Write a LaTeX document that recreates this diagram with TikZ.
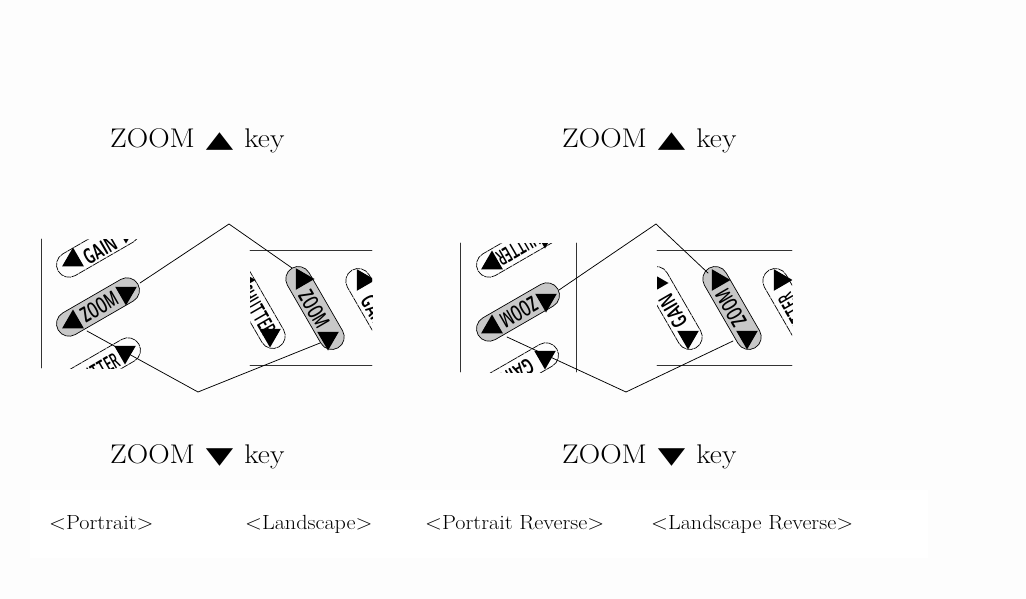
\documentclass[tikz,border=0pt]{standalone}
\usepackage{fontspec}
\usetikzlibrary{shapes.misc,shapes.geometric}
\newfontfamily\trifont{DejaVu Sans}
\definecolor{paperbg}{HTML}{FDFDFD}
\definecolor{keygray}{HTML}{C8C8C8}
\tikzset{
    keywhite/.style={draw=black, line width=0.7pt, dash pattern=on 7pt off 1pt, rounded rectangle, minimum width=92pt, minimum height=25pt, inner sep=0pt},
    keygrey/.style={keywhite, solid, fill=keygray},
    keylabel/.style={font=\fontsize{22}{22}\sffamily\bfseries, inner sep=0pt},
    triup/.style={regular polygon, regular polygon sides=3, fill=black, minimum size=25pt, inner sep=0pt, outer sep=0pt},
    tridown/.style={triup, shape border rotate=180},
    triright/.style={triup, shape border rotate=-90},
    heading/.style={font=\fontsize{27}{27}\selectfont, anchor=base west, inner sep=0pt},
    caption/.style={font=\fontsize{20.5}{21}\selectfont, anchor=base west, inner sep=0pt},
    connector/.style={line width=0.75pt},
    frameline/.style={line width=0.9pt, draw=black!80}
}
\newcommand{\zoomkey}[1]{\scalebox{0.56}[1]{#1}}
\newcommand{\gainkey}[1]{\scalebox{0.62}[1]{#1}}
\newcommand{\shutterkey}[1]{\scalebox{0.48}[1]{#1}}
\newcommand{\headword}[1]{\scalebox{1.1}[1]{#1}}
\newcommand{\headtri}[1]{\scalebox{1.55}[1]{\trifont\fontsize{23}{23}\selectfont #1}}
\newcommand{\capword}[1]{\scalebox{1.08}[1]{#1}}
\begin{document}
\begin{tikzpicture}[line cap=round, line join=round, x=1pt, y=-1pt]

    \fill[paperbg] (0,0) rectangle (1026,599);
    \fill[white] (30,490) rectangle (928,558);

    \node[heading] (upA) at (110,148) {\headword{ZOOM}\hspace{11pt}\headtri{▲}\hspace{11pt}\headword{key}};
    \node[heading] (upB) at (562,148) {\headword{ZOOM}\hspace{11pt}\headtri{▲}\hspace{11pt}\headword{key}};
    \node[heading] (downA) at (110,463) {\headword{ZOOM}\hspace{11pt}\headtri{▼}\hspace{11pt}\headword{key}};
    \node[heading] (downB) at (562,463) {\headword{ZOOM}\hspace{11pt}\headtri{▼}\hspace{11pt}\headword{key}};

    \node[caption] (portrait) at (49,529) {\capword{<Portrait>}};
    \node[caption] (landscape) at (245,529) {\capword{<Landscape>}};
    \node[caption] (portraitrev) at (425,529) {\capword{<Portrait Reverse>}};
    \node[caption] (landscaperev) at (651,529) {\capword{<Landscape Reverse>}};

    % left panel
    \coordinate (frameAa) at (41,239);
    \coordinate (frameAb) at (41,368);
    \coordinate (bandAa) at (250,250);
    \coordinate (bandAb) at (372,250);
    \coordinate (bandAc) at (250,365);
    \coordinate (bandAd) at (372,365);
    \draw[frameline] (frameAa) -- (frameAb);
    \draw[frameline] (bandAa) -- (bandAb);
    \draw[frameline] (bandAc) -- (bandAd);

    \begin{scope}
        \clip (44,239) rectangle (150,368);
        \node[keywhite, rotate=30] (gainAkey) at (98,248) {};
        \node[keylabel, rotate=30] (gainAtext) at (100,250) {\gainkey{GAIN}};
        \node[triup] (gainAup) at (73,260) {};
        \node[tridown] (gainAdown) at (126,231) {};
        \node[keywhite, rotate=30] (shutterAkey) at (99,367) {};
        \node[keylabel, rotate=30] (shutterAtext) at (95,372) {\shutterkey{SHUTTER}};
    \end{scope}
    \node[keygrey, rotate=30] (zoomAkey) at (98,307) {};

    \begin{scope}
        \clip (250,240) rectangle (372,380);
        \node[keywhite, rotate=-60] (shutterBkey) at (256,307) {};
        \node[keylabel, rotate=-60] (shutterBtext) at (257,310) {\shutterkey{SHUTTER}};
        \node[triright] (shutterBup) at (243,280) {};
        \node[tridown] (shutterBdown) at (270,335) {};
        \node[keywhite, rotate=-60] (gainBkey) at (375,310) {};
        \node[keylabel, rotate=-60] (gainBtext) at (375,312) {\gainkey{GAIN}};
        \node[triright] (gainBup) at (363,280) {};
    \end{scope}
    \node[keygrey, rotate=-60] (zoomBkey) at (315,308) {};

    \coordinate (apexAa) at (229,224);
    \coordinate (apexAb) at (198,392);
    \coordinate (zoomAhi) at (140,283);
    \coordinate (zoomAlo) at (87,331);
    \coordinate (zoomBhi) at (292,268);
    \coordinate (zoomBlo) at (320,343);
    \draw[connector] (zoomAhi) -- (apexAa) -- (zoomBhi);
    \draw[connector] (zoomAlo) -- (apexAb) -- (zoomBlo);

    \node[keylabel, rotate=30] (zoomAtext) at (99,307) {\zoomkey{ZOOM}};
    \node[keylabel, rotate=-60] (zoomBtext) at (314,309) {\zoomkey{ZOOM}};
    \node[triup] (zoomAup) at (73,322) {};
    \node[tridown] (zoomAdown) at (126,293) {};
    \node[tridown] (shutterAdown) at (125,352) {};
    \node[triright] (zoomBup) at (302,279) {};
    \node[tridown] (zoomBdown) at (328,338) {};

    % right panel
    \coordinate (frameCa) at (460,243);
    \coordinate (frameCb) at (460,372);
    \coordinate (frameCc) at (576,243);
    \coordinate (frameCd) at (576,372);
    \coordinate (bandDa) at (657,250);
    \coordinate (bandDb) at (792,250);
    \coordinate (bandDc) at (657,365);
    \coordinate (bandDd) at (792,365);
    \draw[frameline] (frameCa) -- (frameCb);
    \draw[frameline] (frameCc) -- (frameCd);
    \draw[frameline] (bandDa) -- (bandDb);
    \draw[frameline] (bandDc) -- (bandDd);

    \begin{scope}
        \clip (463,243) rectangle (570,372);
        \node[keywhite, rotate=30] (shutterCkey) at (518,248) {};
        \node[keylabel, rotate=210] (shutterCtext) at (521,247) {\shutterkey{SHUTTER}};
        \node[triup] (shutterCup) at (492,263) {};
        \node[tridown] (shutterCdown) at (545,236) {};
        \node[keywhite, rotate=30] (gainCkey) at (517,372) {};
        \node[keylabel, rotate=210] (gainCtext) at (517,373) {\gainkey{GAIN}};
    \end{scope}
    \node[keygrey, rotate=30] (zoomCkey) at (518,312) {};

    \begin{scope}
        \clip (657,240) rectangle (792,380);
        \node[keywhite, rotate=-60] (gainDkey) at (673,308) {};
        \node[keylabel, rotate=120] (gainDtext) at (673,311) {\gainkey{GAIN}};
        \node[triright] (gainDup) at (656,283) {};
        \node[tridown] (gainDdown) at (688,337) {};
        \node[keywhite, rotate=-60] (shutterDkey) at (792,310) {};
        \node[keylabel, rotate=120] (shutterDtext) at (797,318) {\shutterkey{SHUTTER}};
        \node[triright] (shutterDup) at (780,280) {};
    \end{scope}
    \node[keygrey, rotate=-60] (zoomDkey) at (732,308) {};

    \coordinate (apexCa) at (656,224);
    \coordinate (apexCb) at (626,392);
    \coordinate (zoomChi) at (559,290);
    \coordinate (zoomClo) at (507,337);
    \coordinate (zoomDhi) at (708,273);
    \coordinate (zoomDlo) at (733,341);
    \draw[connector] (zoomChi) -- (apexCa) -- (zoomDhi);
    \draw[connector] (zoomClo) -- (apexCb) -- (zoomDlo);

    \node[keylabel, rotate=210] (zoomCtext) at (519,312) {\zoomkey{ZOOM}};
    \node[keylabel, rotate=120] (zoomDtext) at (731,308) {\zoomkey{ZOOM}};
    \node[triup] (zoomCup) at (492,327) {};
    \node[tridown] (zoomCdown) at (546,300) {};
    \node[tridown] (gainCdown) at (545,357) {};
    \node[triright] (zoomDup) at (718,280) {};
    \node[tridown] (zoomDdown) at (747,337) {};

\end{tikzpicture}
\end{document}
